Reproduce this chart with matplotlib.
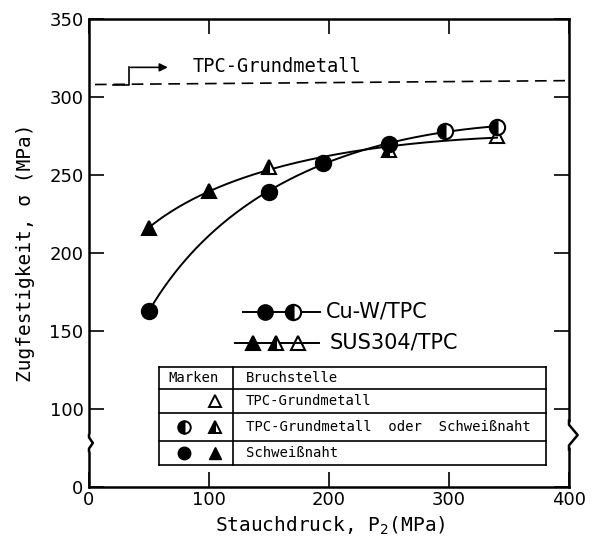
#!/usr/bin/env python3
import matplotlib
matplotlib.use("Agg")
import matplotlib.pyplot as plt
import numpy as np

# -----------------------------------------------------------------------------
# Data
# -----------------------------------------------------------------------------

# Cu-W / TPC
druck_cuw = [50, 150, 195, 250, 297, 340]
festigkeit_cuw = [163, 239, 258, 270, 278, 281]
fuellung_cuw = ["full", "full", "full", "full", "left", "left"]

# SUS304 / TPC
druck_sus = [50, 100, 150, 250, 340]
festigkeit_sus = [216, 239.5, 255, 266, 275]
fuellung_sus = ["full", "full", "left", "left", "none"]

# TPC-Grundmetall (Referenzlinie)
grund_x = [5, 400]
grund_y = [308, 310.5]

x_ticks = [0, 100, 200, 300, 400]
y_ticks = [0, 100, 150, 200, 250, 300, 350]

mono = "DejaVu Sans Mono"

# -----------------------------------------------------------------------------
# Plot
# -----------------------------------------------------------------------------


def fwd(y):
    y = np.asarray(y, dtype=float)
    return np.where(y >= 100, y, 100 - (100 - y) * 0.5)


def inv(t):
    t = np.asarray(t, dtype=float)
    return np.where(t >= 100, t, 100 - (100 - t) * 2.0)


fig = plt.figure(figsize=(6.0, 5.44), dpi=100)
ax = fig.add_axes([89 / 600, 1 - 487 / 544, 480 / 600, 468 / 544])
ax.set_yscale("function", functions=(fwd, inv))
ax.set_xlim(0, 400)
ax.set_ylim(0, 350)

for s in ax.spines.values():
    s.set_linewidth(1.8)

ax.set_xticks(x_ticks)
ax.set_yticks(y_ticks)
ax.yaxis.set_minor_locator(matplotlib.ticker.NullLocator())
ax.tick_params(direction="in", length=11, width=1.2, top=True, right=True,
               labelsize=13, pad=4)
ax.tick_params(axis="x", pad=3)


# smooth trend curves through the measurements (fit over sqrt of pressure)
def kurve(x, y, grad):
    p = np.polyfit(np.sqrt(x), y, grad)
    xx = np.linspace(min(x), max(x), 200)
    return xx, np.polyval(p, np.sqrt(xx))


xx, yy = kurve(druck_sus, festigkeit_sus, 2)
ax.plot(xx, yy, color="black", lw=1.4)
xx, yy = kurve(druck_cuw, festigkeit_cuw, 2)
ax.plot(xx, yy, color="black", lw=1.4)

for x, y, f in zip(druck_sus, festigkeit_sus, fuellung_sus):
    ax.plot(x, y, marker="^", ms=10, fillstyle=f, color="black",
            markerfacecoloralt="white",
            markerfacecolor="black" if f != "none" else "white",
            mew=1.5, ls="none")
for x, y, f in zip(druck_cuw, festigkeit_cuw, fuellung_cuw):
    ax.plot(x, y, marker="o", ms=11, fillstyle=f, color="black",
            markerfacecoloralt="white", mew=1.5, ls="none")

# reference line
ax.plot(grund_x, grund_y, color="black", lw=1.2, dashes=(7, 4))
ax.plot([20, 33, 33], [308, 308, 319], color="black", lw=1.2)
ax.annotate("", xy=(68, 319), xytext=(32.5, 319),
            arrowprops=dict(arrowstyle="-|>", color="black", lw=1.2,
                            mutation_scale=12))
ax.text(86, 319.5, "TPC-Grundmetall", family=mono, fontsize=13.5,
        va="center", ha="left")

# legend
T = ax.transAxes
ax.plot([0.321, 0.481], [0.374, 0.374], color="black", lw=1.4, transform=T)
ax.plot(0.366, 0.374, marker="o", ms=11, color="black", transform=T)
ax.plot(0.425, 0.374, marker="o", ms=11, fillstyle="left", color="black",
        markerfacecoloralt="white", mew=1.5, transform=T)
ax.text(0.494, 0.374, "Cu-W/TPC", fontsize=15, va="center", ha="left",
        transform=T)

ax.plot([0.304, 0.479], [0.308, 0.308], color="black", lw=1.4, transform=T)
for xm, f in zip([0.342, 0.390, 0.435], ["full", "left", "none"]):
    ax.plot(xm, 0.308, marker="^", ms=10, fillstyle=f, color="black",
            markerfacecoloralt="white",
            markerfacecolor="black" if f != "none" else "white",
            mew=1.5, transform=T)
ax.text(0.502, 0.308, "SUS304/TPC", fontsize=15, va="center", ha="left",
        transform=T)

# table of fracture locations
tl, td, tr = 0.1458, 0.300, 0.952
rows = [0.2564, 0.2094, 0.158, 0.0983, 0.047]
for r in rows:
    ax.plot([tl, tr], [r, r], color="black", lw=1.2, transform=T)
ax.plot([tl, tl], [rows[0], rows[-1]], color="black", lw=1.2, transform=T)
ax.plot([td, td], [rows[0], rows[-1]], color="black", lw=1.2, transform=T)
ax.plot([tr, tr], [rows[0], rows[-1]], color="black", lw=1.2, transform=T)

mitte = [(rows[i] + rows[i + 1]) / 2 for i in range(4)]
ax.text(0.165, mitte[0], "Marken", family=mono, fontsize=10, va="center",
        transform=T)
ax.text(0.327, mitte[0], "Bruchstelle", family=mono, fontsize=10,
        va="center", transform=T)
ax.text(0.327, mitte[1], "TPC-Grundmetall", family=mono, fontsize=10,
        va="center", transform=T)
ax.text(0.327, mitte[2], "TPC-Grundmetall  oder  Schweißnaht", family=mono,
        fontsize=10, va="center", transform=T)
ax.text(0.327, mitte[3], "Schweißnaht", family=mono, fontsize=10,
        va="center", transform=T)

ax.plot(0.2625, mitte[1], marker="^", ms=9, mfc="white", mec="black",
        mew=1.4, transform=T)
ax.plot(0.198, mitte[2], marker="o", ms=9, fillstyle="left", color="black",
        markerfacecoloralt="white", mew=1.4, transform=T)
ax.plot(0.2625, mitte[2], marker="^", ms=9, fillstyle="left", color="black",
        markerfacecoloralt="white", mew=1.4, transform=T)
ax.plot(0.198, mitte[3], marker="o", ms=9, color="black", transform=T)
ax.plot(0.2625, mitte[3], marker="^", ms=9, color="black", transform=T)

# axis break marks
for xs, yb, w, h in [(0.0, 0.094, 0.008, 0.012), (1.0, 0.111, 0.018, 0.022)]:
    ax.plot([xs, xs], [yb - h, yb + h], color="white", lw=4, transform=T,
            clip_on=False, zorder=5)
    ax.plot([xs, xs, xs + w, xs, xs],
            [yb - h * 1.4, yb - h, yb, yb + h, yb + h * 1.4],
            color="black", lw=1.8, transform=T, clip_on=False, zorder=6)

ax.set_xlabel("Stauchdruck, P$_2$(MPa)", family=mono, fontsize=14)
ax.set_ylabel("Zugfestigkeit, σ (MPa)", family=mono, fontsize=14)
ax.xaxis.set_label_coords(0.502, -0.06)
ax.yaxis.set_label_coords(-0.112, 0.5)

fig.savefig("out.png", dpi=100)
